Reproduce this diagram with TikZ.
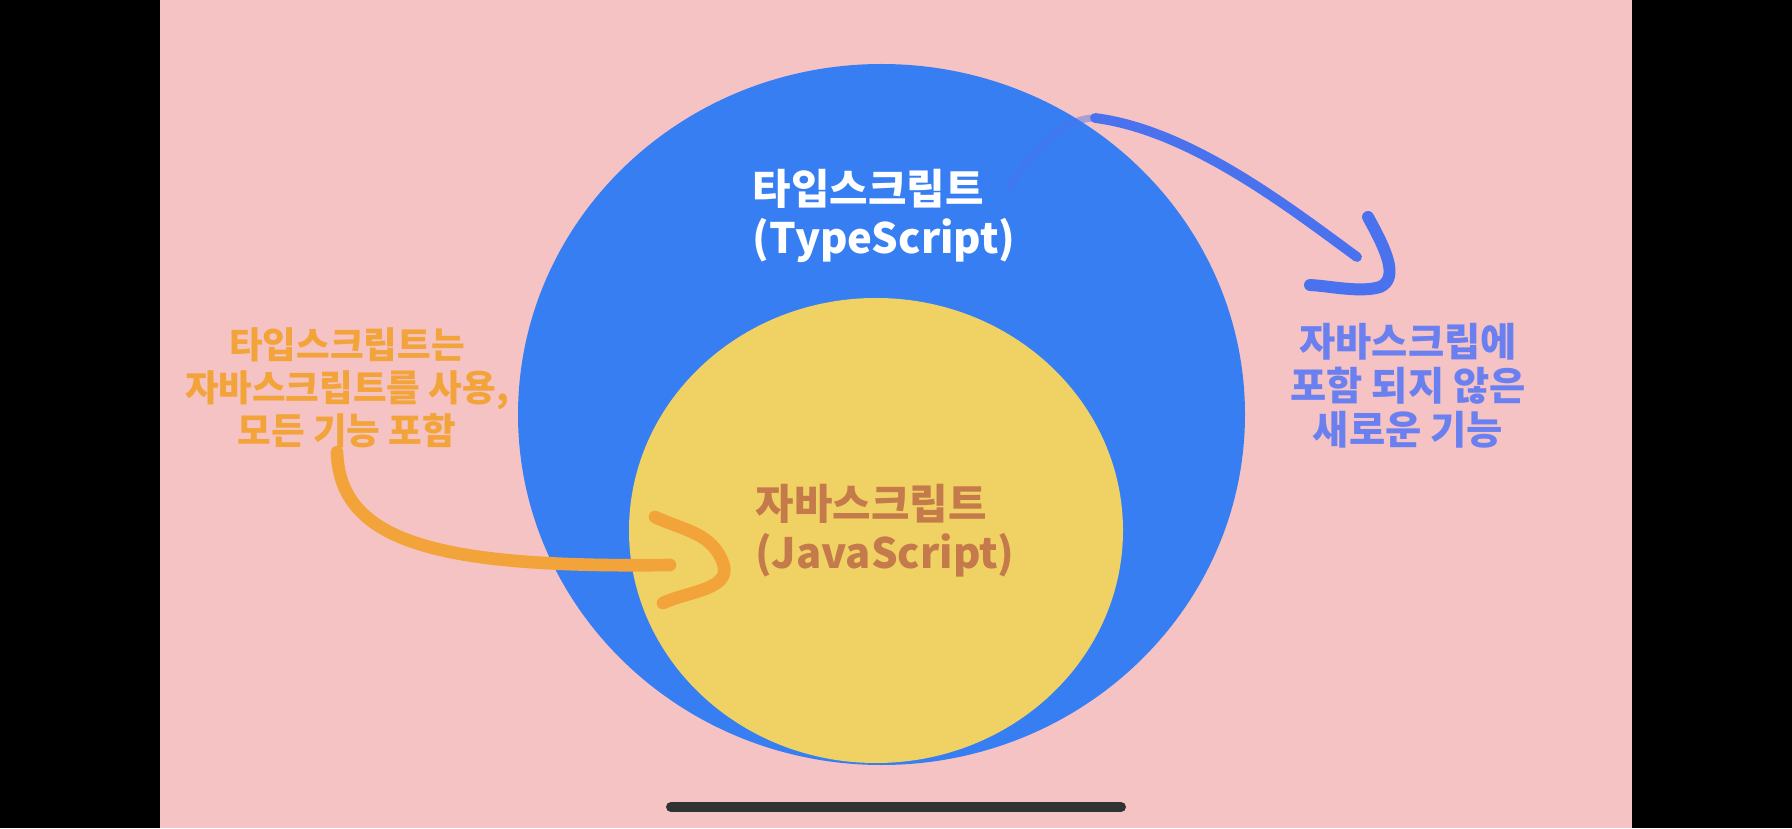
\documentclass[tikz,border=0pt]{standalone}
\usepackage{fontspec}
\newfontfamily\kr{Noto Sans CJK KR}
\usepackage{tikz}
\usetikzlibrary{positioning}
\definecolor{bgpink}{HTML}{F5C3C3}
\definecolor{tsblue}{HTML}{387EF3}
\definecolor{jsyellow}{HTML}{F0D264}
\definecolor{jsbrown}{HTML}{C47A4A}
\definecolor{noteorange}{HTML}{F2A43A}
\definecolor{noteblue}{HTML}{6B80F0}
\definecolor{arrowblue}{HTML}{4A72EE}
\definecolor{homegray}{HTML}{323232}

\begin{document}
\begin{tikzpicture}[line cap=round, line join=round,
    ttl/.style={font=\kr\bfseries\fontsize{11.9}{14}\selectfont, align=left, anchor=west, inner sep=0pt},
    note/.style={font=\kr\bfseries\fontsize{10.4}{12.2}\selectfont, align=center, inner sep=1pt},
    brush/.style={line width=3.6pt}]
  % frame and background
  \fill[black] (0,0) rectangle (17.92,8.28);
  \fill[bgpink] (1.60,0) rectangle (16.32,8.28);
  % the two sets
  \fill[tsblue] (8.815,4.135) ellipse [x radius=3.635, y radius=3.505];
  \fill[jsyellow] (8.76,2.975) ellipse [x radius=2.47, y radius=2.325];
  % labels
  \node[ttl, text=white] (ts) at (7.52,6.12) {타입스크립트\\(TypeScript)};
  \node[ttl, text=jsbrown] (js) at (7.55,2.97) {자바스크립트\\(JavaScript)};
  \node[note, text=noteorange] (uses) at (3.47,4.40) {타입스크립트는\\자바스크립트를 사용,\\모든 기능 포함};
  \node[note, text=noteblue, font=\kr\bfseries\fontsize{11.2}{12.5}\selectfont] (extra) at (14.08,4.42) {자바스크립에\\포함 되지 않은\\새로운 기능};
  % orange arrow into javascript
  \coordinate (otip) at (7.23,2.65);
  \draw[brush, noteorange] ([xshift=-1mm]uses.south) .. controls (3.40,2.85) and (4.4,2.6) .. (6.7,2.63);
  \draw[brush, noteorange] (6.55,3.11) to[out=-25,in=110] (otip) to[out=-70,in=25] (6.63,2.25);
  % blue arrow out of typescript
  \coordinate (bs) at (10.10,6.41);
  \coordinate (bt) at (10.95,7.10);
  \coordinate (be) at (13.57,5.71);
  \draw[line width=2pt, arrowblue, opacity=0.45] (bs) .. controls (10.4,6.9) and (10.7,7.1) .. (bt);
  \draw[line width=2.8pt, arrowblue] (bt) .. controls (11.9,6.98) and (12.9,6.2) .. (be);
  \draw[line width=3.4pt, arrowblue] (13.68,6.11) .. controls (13.85,5.8) and (14.0,5.5) .. (13.80,5.41)
      .. controls (13.6,5.35) and (13.3,5.42) .. (13.10,5.43);
  % home bar
  \draw[line width=0.1cm, homegray] (6.71,0.21) -- (11.21,0.21);
\end{tikzpicture}
\end{document}
